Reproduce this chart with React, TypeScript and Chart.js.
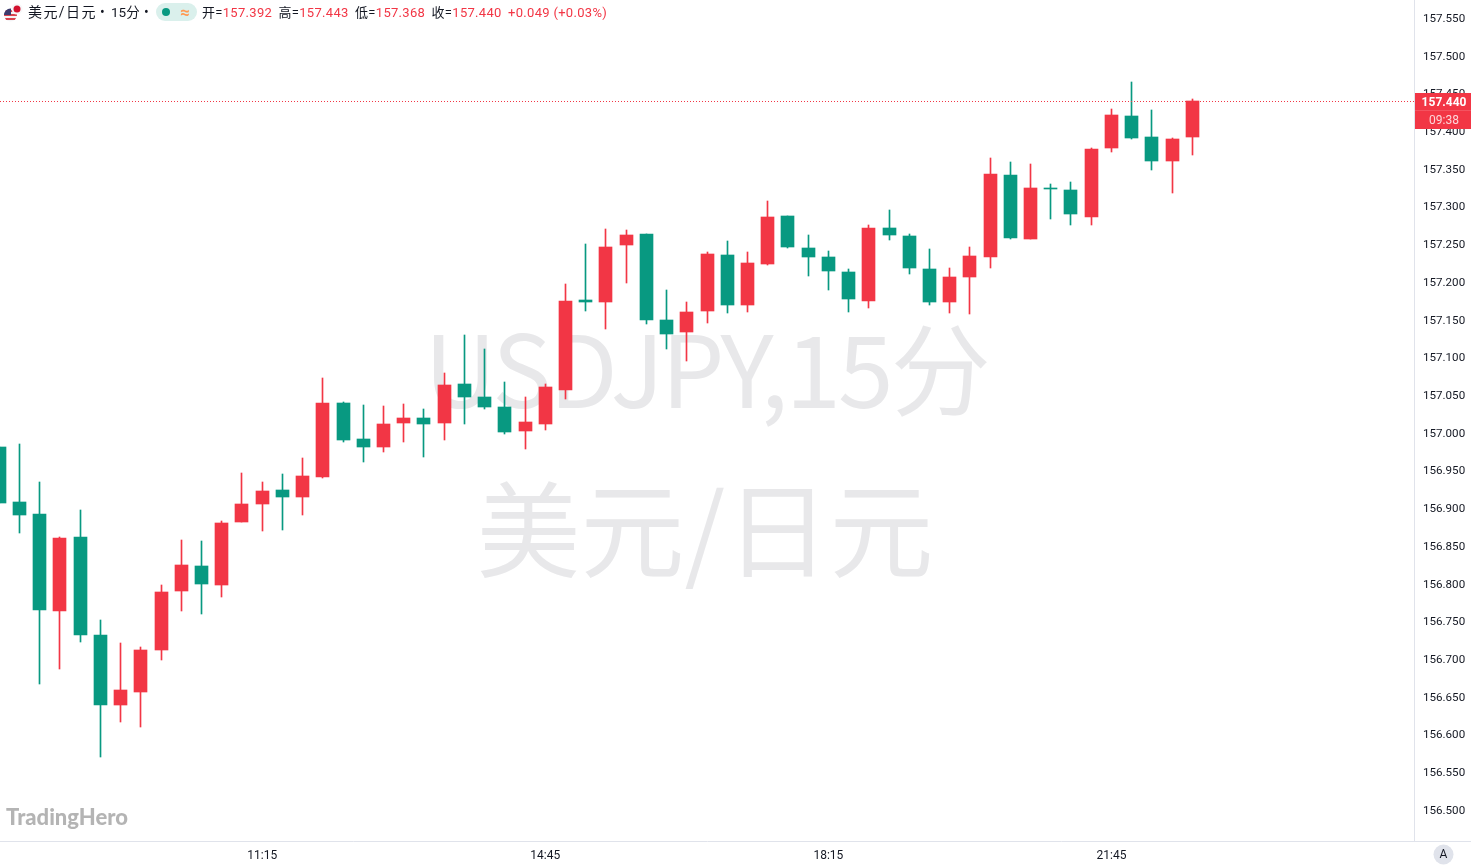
import React, { useEffect, useRef } from "react";
import { Chart, registerables } from "chart.js";

Chart.register(...registerables);

const times = [
  "08:00","08:15","08:30","08:45","09:00","09:15","09:30","09:45","10:00","10:15",
  "10:30","10:45","11:00","11:15","11:30","11:45","12:00","12:15","12:30","12:45",
  "13:00","13:15","13:30","13:45","14:00","14:15","14:30","14:45","15:00","15:15",
  "15:30","15:45","16:00","16:15","16:30","16:45","17:00","17:15","17:30","17:45",
  "18:00","18:15","18:30","18:45","19:00","19:15","19:30","19:45","20:00","20:15",
  "20:30","20:45","21:00","21:15","21:30","21:45","22:00","22:15","22:30","22:45",
];
const opens = [
  156.981,156.908,156.892,156.764,156.862,156.732,156.639,156.656,156.712,156.790,
  156.823,156.798,156.882,156.906,156.924,156.915,156.941,157.040,156.992,156.981,
  157.013,157.020,157.013,157.065,157.048,157.034,157.002,157.012,157.057,157.176,
  157.173,157.249,157.263,157.150,157.134,157.162,157.236,157.170,157.224,157.288,
  157.245,157.233,157.213,157.175,157.272,157.261,157.217,157.173,157.207,157.233,
  157.342,157.257,157.325,157.322,157.286,157.378,157.420,157.392,157.360,157.392,
];
const highs = [
  156.981,156.985,156.935,156.862,156.898,156.752,156.721,156.716,156.798,156.858,
  156.857,156.883,156.947,156.935,156.945,156.967,157.073,157.041,157.037,157.036,
  157.038,157.032,157.079,157.130,157.111,157.067,157.048,157.065,157.197,157.250,
  157.270,157.269,157.263,157.189,157.173,157.240,157.254,157.240,157.307,157.288,
  157.262,157.241,157.217,157.276,157.295,157.263,157.244,157.219,157.246,157.364,
  157.359,157.356,157.330,157.333,157.378,157.429,157.465,157.428,157.391,157.443,
];
const lows = [
  156.907,156.867,156.667,156.687,156.723,156.570,156.617,156.610,156.699,156.764,
  156.760,156.782,156.882,156.870,156.871,156.891,156.940,156.988,156.961,156.975,
  156.988,156.968,156.991,157.012,157.032,156.998,156.979,157.004,157.045,157.162,
  157.138,157.199,157.144,157.111,157.095,157.146,157.159,157.160,157.223,157.245,
  157.208,157.189,157.160,157.166,157.256,157.211,157.170,157.159,157.158,157.219,
  157.257,157.257,157.284,157.276,157.276,157.372,157.390,157.349,157.318,157.368,
];
const closes = [
  156.907,156.891,156.765,156.861,156.732,156.639,156.659,156.712,156.789,156.825,
  156.800,156.880,156.906,156.923,156.915,156.943,157.040,156.991,156.981,157.012,
  157.020,157.012,157.063,157.048,157.034,157.001,157.014,157.061,157.175,157.173,
  157.246,157.262,157.150,157.131,157.160,157.237,157.170,157.225,157.286,157.246,
  157.233,157.215,157.177,157.272,157.262,157.219,157.173,157.207,157.234,157.343,
  157.258,157.325,157.323,157.290,157.376,157.421,157.391,157.360,157.390,157.440,
];
const priceTicks = [
  157.55,157.5,157.45,157.4,157.35,157.3,157.25,157.2,157.15,157.1,157.05,157.0,
  156.95,156.9,156.85,156.8,156.75,156.7,156.65,156.6,156.55,156.5,
];
const timeTickIndexes = [13, 27, 41, 55];
const lastPrice = 157.44;
const countdown = "09:38";
const watermarkLines = ["USDJPY,15分", "美元/日元"];
const legendItems = [
  ["开=", "157.392"],
  ["高=", "157.443"],
  ["低=", "157.368"],
  ["收=", "157.440"],
];
const legendChange = "+0.049 (+0.03%)";

const UP = "#F23645";
const DOWN = "#089981";
const UI_FONT = "Roboto, 'Noto Sans CJK SC', sans-serif";
const noPadding = (s: any) => {
  s.paddingTop = 0;
  s.paddingBottom = 0;
  s.paddingLeft = 0;
  s.paddingRight = 0;
};

export default function App() {
  const ref = useRef<HTMLCanvasElement>(null);

  useEffect(() => {
    document.body.style.margin = "0";
    document.body.style.overflow = "hidden";
    const colors = closes.map((c, i) => (c >= opens[i] ? UP : DOWN));

    const snap = {
      id: "snap",
      afterDatasetsUpdate(chart: any) {
        chart.data.datasets.forEach((_: any, d: number) => {
          chart.getDatasetMeta(d).data.forEach((el: any) => {
            el.x = Math.floor(el.x) + 0.5;
            el.y = Math.round(el.y);
            el.base = Math.round(el.base);
            el.height = el.base - el.y;
          });
        });
      },
    };

    const decorations = {
      id: "decorations",
      beforeDatasetsDraw(chart: any) {
        const ctx = chart.ctx;
        ctx.save();
        ctx.fillStyle = "#E8E8EA";
        ctx.textAlign = "center";
        ctx.textBaseline = "alphabetic";
        ctx.font = "100px 'Noto Sans CJK SC', sans-serif";
        ctx.letterSpacing = "-2.9px";
        ctx.fillText(watermarkLines[0], 706, 408);
        ctx.letterSpacing = "0px";
        ctx.font = "104px 'Noto Sans CJK SC', sans-serif";
        ctx.fillText(watermarkLines[1], 705, 570);
        ctx.restore();
      },
      afterDraw(chart: any) {
        const ctx = chart.ctx;
        const y = Math.round(chart.scales.y.getPixelForValue(lastPrice)) + 0.5;
        ctx.save();
        ctx.strokeStyle = UP;
        ctx.lineWidth = 1;
        ctx.setLineDash([1, 2]);
        ctx.beginPath();
        ctx.moveTo(0, y);
        ctx.lineTo(1414, y);
        ctx.stroke();
        ctx.setLineDash([]);

        ctx.strokeStyle = "#E0E3EB";
        ctx.beginPath();
        ctx.moveTo(1414, 841.5);
        ctx.lineTo(1471, 841.5);
        ctx.stroke();

        const top = 93;
        ctx.fillStyle = UP;
        ctx.fillRect(1415, top, 56, 36);
        ctx.fillStyle = "rgba(255,255,255,0.15)";
        ctx.fillRect(1415, top + 17, 56, 1);
        ctx.textAlign = "center";
        ctx.textBaseline = "middle";
        ctx.fillStyle = "#FFFFFF";
        ctx.font = `bold 12px ${UI_FONT}`;
        ctx.fillText(lastPrice.toFixed(3), 1444, top + 9.5);
        ctx.fillStyle = "rgba(255,255,255,0.8)";
        ctx.font = `12px ${UI_FONT}`;
        ctx.fillText(countdown, 1444, top + 27.5);

        ctx.fillStyle = "#E0E3EB";
        ctx.beginPath();
        ctx.arc(1443.5, 854.5, 10, 0, Math.PI * 2);
        ctx.fill();
        ctx.fillStyle = "#131722";
        ctx.font = `12px ${UI_FONT}`;
        ctx.fillText("A", 1443.5, 855);

        ctx.textAlign = "left";
        ctx.textBaseline = "alphabetic";
        ctx.fillStyle = "#B4B4B4";
        ctx.font = "900 22px Lato, sans-serif";
        ctx.fillText("TradingHero", 6, 825);
        ctx.restore();
      },
    };

    const chart = new Chart(ref.current as HTMLCanvasElement, {
      type: "bar",
      data: {
        datasets: [
          {
            label: "body",
            data: opens.map((o, i) => ({ x: i, y: [o, closes[i]] })),
            backgroundColor: colors,
            barThickness: 13,
            grouped: false,
            order: 1,
          },
          {
            label: "wick",
            data: lows.map((l, i) => ({ x: i, y: [l, highs[i]] })),
            backgroundColor: colors,
            barThickness: 1,
            grouped: false,
            order: 2,
          },
        ],
      } as any,
      options: {
        animation: false,
        responsive: false,
        maintainAspectRatio: false,
        layout: { padding: 0 },
        plugins: { legend: { display: false }, tooltip: { enabled: false } },
        scales: {
          x: {
            type: "linear",
            offset: false,
            min: 0.0331,
            max: 69.964,
            grid: { drawOnChartArea: false, drawTicks: false, offset: false },
            border: { color: "#E0E3EB" },
            afterFit(s: any) { s.height = 26; noPadding(s); },
            afterBuildTicks(s: any) { s.ticks = timeTickIndexes.map((v) => ({ value: v })); },
            ticks: {
              autoSkip: false,
              maxRotation: 0,
              padding: 8,
              color: "#131722",
              font: { family: UI_FONT, size: 12 },
              callback: (v: any) => times[v as number],
            },
          },
          y: {
            type: "linear",
            position: "right",
            min: 156.4589,
            max: 157.5739,
            grid: { drawOnChartArea: false, drawTicks: false },
            border: { color: "#E0E3EB" },
            afterFit(s: any) { s.width = 57; noPadding(s); },
            afterBuildTicks(s: any) { s.ticks = priceTicks.map((v) => ({ value: v })); },
            ticks: {
              autoSkip: false,
              padding: 9,
              labelOffset: 1,
              color: "#131722",
              font: { family: UI_FONT, size: 11.6 },
              callback: (v: any) => Number(v).toFixed(3),
            },
          },
        },
      } as any,
      plugins: [snap, decorations],
    });
    return () => chart.destroy();
  }, []);

  const abs = (left: number): React.CSSProperties => ({ position: "absolute", left, top: 3, lineHeight: "18px", whiteSpace: "nowrap" });

  return (
    <div style={{ position: "relative", width: 1471, height: 867, overflow: "hidden", background: "#fff", font: `14px ${UI_FONT}`, color: "#131722" }}>
      <canvas ref={ref} width={1471} height={867} style={{ position: "absolute", left: 0, top: 0, width: 1471, height: 867 }} />
      <svg width={24} height={24} viewBox="0 0 24 24" style={{ position: "absolute", left: 0, top: 0 }}>
        <defs><clipPath id="c"><circle cx={10.5} cy={15} r={6.5} /></clipPath></defs>
        <g clipPath="url(#c)">
          <rect x={4} y={8} width={14} height={14} fill="#F4F4F6" />
          <rect x={4} y={10} width={14} height={2} fill="#D9434E" />
          <rect x={4} y={14} width={14} height={2} fill="#D9434E" />
          <rect x={4} y={18} width={14} height={2} fill="#D9434E" />
          <rect x={4} y={8} width={7} height={7} fill="#3C3B6E" />
        </g>
        <circle cx={17} cy={9} r={5.5} fill="#F7F7F8" />
        <circle cx={17} cy={9} r={3.5} fill="#D2102E" />
      </svg>
      <span style={{ ...abs(28), letterSpacing: "1.4px" }}>美元/日元</span>
      <span style={{ ...abs(100) }}>•</span>
      <span style={{ ...abs(111), fontSize: 13.5 }}>15分</span>
      <span style={{ ...abs(144) }}>•</span>
      <span style={{ position: "absolute", left: 156, top: 3, width: 41, height: 18, borderRadius: 9, background: "#DAF0EC" }}>
        <span style={{ position: "absolute", left: 6, top: 5, width: 8, height: 8, borderRadius: 4, background: DOWN }} />
        <span style={{ position: "absolute", left: 24, top: 0, lineHeight: "18px", fontSize: 17, color: "#FF9850", fontWeight: 700 }}>≈</span>
      </span>
      <span style={{ ...abs(202), top: 4, fontSize: 13, letterSpacing: "0.3px", display: "flex" }}>
        {legendItems.map(([k, v]) => (
          <span key={k} style={{ marginRight: 6.4 }}>
            {k}<span style={{ color: UP }}>{v}</span>
          </span>
        ))}
        <span style={{ color: UP }}>{legendChange}</span>
      </span>
    </div>
  );
}
